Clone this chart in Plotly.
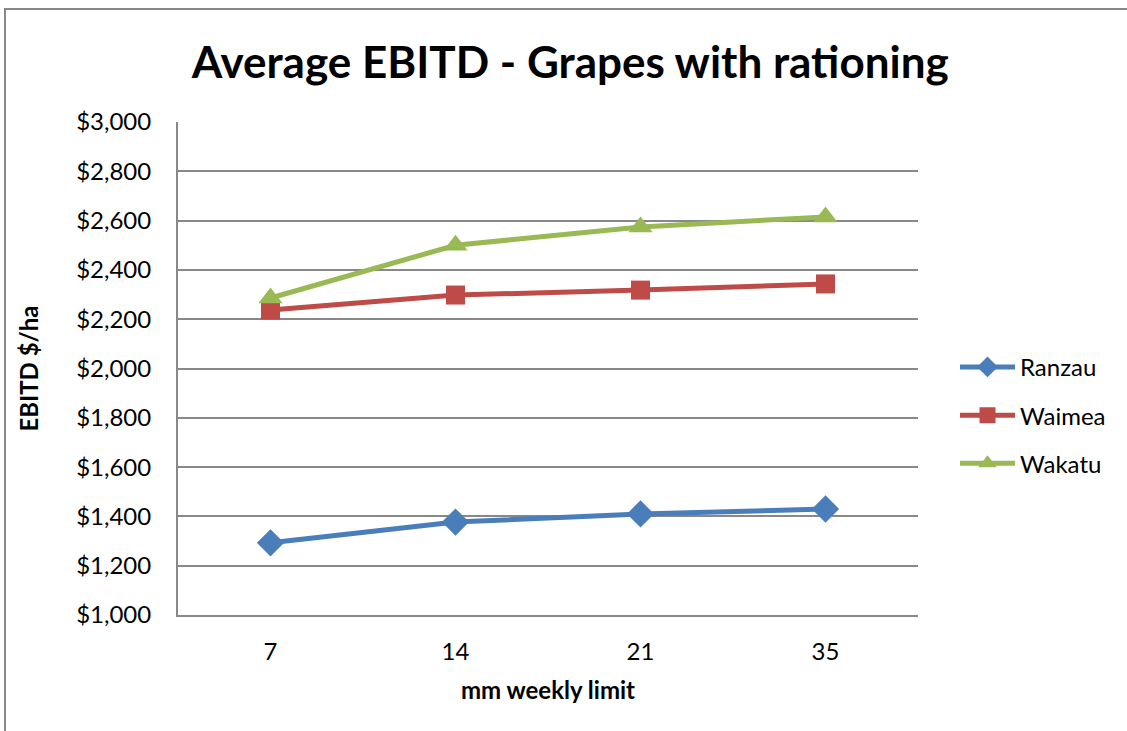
import plotly.graph_objects as go

categories = ["7", "14", "21", "35"]
ranzau = [1293, 1377, 1410, 1430]
waimea = [2237, 2298, 2318, 2343]
wakatu = [2286, 2500, 2574, 2615]
y_ticks = [1000, 1200, 1400, 1600, 1800, 2000, 2200, 2400, 2600, 2800, 3000]
y_tick_labels = ["$1,000", "$1,200", "$1,400", "$1,600", "$1,800", "$2,000",
                 "$2,200", "$2,400", "$2,600", "$2,800", "$3,000"]

FONT = "Lato"

fig = go.Figure()
series = [
    ("Ranzau", ranzau, "#4A7EBB", "diamond", 21),
    ("Waimea", waimea, "#BE4B48", "square", 19),
    ("Wakatu", wakatu, "#98B954", "triangle-up", 21),
]
for name, vals, col, sym, sz in series:
    fig.add_trace(go.Scatter(
        x=categories, y=vals, name=name, mode="lines+markers",
        line=dict(color=col, width=5),
        marker=dict(symbol=sym, size=sz, color=col),
        legendgroup=name,
    ))

fig.update_layout(
    width=1127, height=731,
    margin=dict(l=178, r=209, t=122, b=116),
    paper_bgcolor="white", plot_bgcolor="white",
    font=dict(family=FONT, size=24, color="black"),
    title=dict(text="<b>Average EBITD - Grapes with rationing</b>",
               font=dict(family=FONT, size=44, color="black"),
               x=0.506, xanchor="center", y=0.915, yanchor="middle"),
    legend=dict(x=1.05, xanchor="left", y=0.405, yanchor="middle",
                font=dict(size=24), tracegroupgap=14, itemwidth=55,
                bgcolor="rgba(0,0,0,0)"),
    showlegend=True,
)
fig.update_xaxes(
    type="category", range=[-0.5, 3.5],
    showgrid=False, showline=True, linecolor="#888888", linewidth=2,
    ticks="", ticklabelstandoff=14,
    title=dict(text="<b>mm weekly limit</b>", font=dict(size=24), standoff=18),
)
fig.update_yaxes(
    range=[1000, 3000], tickvals=y_ticks, ticktext=y_tick_labels,
    showgrid=True, gridcolor="#888888", gridwidth=1.5,
    showline=True, linecolor="#888888", linewidth=2,
    ticks="", ticklabelstandoff=20, zeroline=False,
    title=dict(text="<b>EBITD $/ha</b>", font=dict(size=24), standoff=31),
)
fig.add_shape(type="rect", xref="paper", yref="paper",
              x0=-173/740, x1=(1140-178)/740, y0=-(740-615)/493, y1=(615-9)/493,
              line=dict(color="#888888", width=2), fillcolor="rgba(0,0,0,0)",
              layer="below")

fig.write_html("out.html")
